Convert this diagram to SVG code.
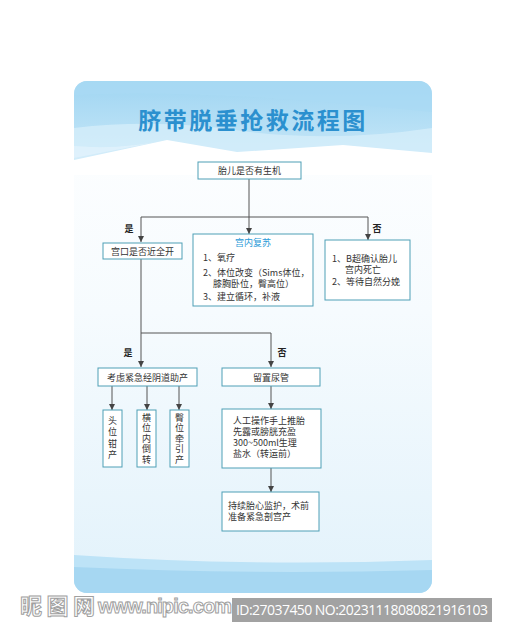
<svg xmlns="http://www.w3.org/2000/svg" width="507" height="638" viewBox="0 0 507 638">
<defs>
<style>
.box{fill:#ffffff;stroke:#4e9fb6;stroke-width:1}
.t{font-family:"Noto Sans CJK SC","Noto Sans",sans-serif;font-size:9px;fill:#333333}
.c{text-anchor:middle}
.v{font-family:"Noto Sans CJK SC","Noto Sans",sans-serif;font-size:9px;fill:#333333;writing-mode:vertical-rl}
.lbl{font-family:"Noto Sans CJK SC",sans-serif;font-size:9px;fill:#222222;font-weight:bold}
.ln{fill:none;stroke:#555555;stroke-width:1}
</style>
<marker id="ah" markerUnits="userSpaceOnUse" markerWidth="6" markerHeight="6" viewBox="0 0 6 6" refX="6" refY="3" orient="auto">
<path d="M0,0 L6,3 L0,6 Z" fill="#444444"/>
</marker>
<linearGradient id="body" x1="0" y1="0" x2="0" y2="1">
<stop offset="0" stop-color="#ffffff"/>
<stop offset="0.45" stop-color="#f6fbfe"/>
<stop offset="1" stop-color="#e2f2fb"/>
</linearGradient>
<linearGradient id="top" x1="0" y1="0" x2="0" y2="1">
<stop offset="0" stop-color="#9fd5f2"/>
<stop offset="1" stop-color="#c9e8f8"/>
</linearGradient>
<clipPath id="board"><rect x="74" y="81" width="358" height="512" rx="13"/></clipPath>
</defs>
<rect width="507" height="638" fill="#ffffff"/>
<g id="background" clip-path="url(#board)">
<rect x="74" y="81" width="358" height="512" fill="url(#body)"/>
<rect x="74" y="81" width="358" height="80" fill="url(#top)"/>
<path d="M74,95 Q200,88 432,112 L432,81 L74,81 Z" fill="#a9daf4" opacity="0.7"/>
<path d="M74,128 Q160,118 250,132 Q340,142 432,128 L432,160 L74,160 Z" fill="#d4edfa" opacity="0.8"/>
<path d="M74,160 L167,140 L237,152 L343,145 L432,153 L432,175 L74,175 Z" fill="#ffffff"/>
<path d="M74,146 Q120,150 167,140 L74,158 Z" fill="#e4f4fc" opacity="0.7"/>
<path d="M74,555 Q250,567 432,560 L432,593 L74,593 Z" fill="#bde3f7"/>
<path d="M74,567 Q250,575 432,570 L432,593 L74,593 Z" fill="#a6d7f2"/>
</g>
<text x="253" y="129" text-anchor="middle" font-family="'Noto Sans CJK SC',sans-serif" font-size="23" font-weight="bold" letter-spacing="2.5" fill="#2b90cf">脐带脱垂抢救流程图</text>
<g id="connectors">
<line class="ln" x1="249" y1="179" x2="249" y2="234" marker-end="url(#ah)"/>
<line class="ln" x1="141" y1="217" x2="368" y2="217"/>
<line class="ln" x1="141" y1="217" x2="141" y2="242" marker-end="url(#ah)"/>
<line class="ln" x1="368" y1="217" x2="368" y2="240" marker-end="url(#ah)"/>
<line class="ln" x1="141" y1="259" x2="141" y2="367" marker-end="url(#ah)"/>
<line class="ln" x1="141" y1="333" x2="271" y2="333"/>
<line class="ln" x1="271" y1="333" x2="271" y2="367" marker-end="url(#ah)"/>
<line class="ln" x1="112" y1="386" x2="112" y2="410" marker-end="url(#ah)"/>
<line class="ln" x1="147" y1="386" x2="147" y2="410" marker-end="url(#ah)"/>
<line class="ln" x1="179" y1="386" x2="179" y2="410" marker-end="url(#ah)"/>
<line class="ln" x1="271" y1="386" x2="271" y2="409" marker-end="url(#ah)"/>
<line class="ln" x1="271" y1="468" x2="271" y2="492" marker-end="url(#ah)"/>
<text class="lbl" x="129" y="232" text-anchor="middle">是</text>
<text class="lbl" x="377" y="232" text-anchor="middle">否</text>
<text class="lbl" x="128" y="356" text-anchor="middle">是</text>
<text class="lbl" x="282" y="356" text-anchor="middle">否</text>
</g>
<g id="n-shengji">
<rect class="box" x="198" y="162" width="103" height="17"/>
<text class="t c" x="249.5" y="174">胎儿是否有生机</text>
</g>
<g id="n-gongkou">
<rect class="box" x="103" y="243" width="79" height="16"/>
<text class="t c" x="142.5" y="254.5" font-size="9.5">宫口是否近全开</text>
</g>
<g id="n-fusu">
<rect class="box" x="193" y="234" width="120" height="72"/>
<text class="t c" x="253" y="246" style="fill:#2a9bd8">宫内复苏</text>
<text class="t" x="203" y="261">1、氧疗</text>
<text class="t" x="203" y="276">2、体位改变（Sims体位，</text>
<text class="t" x="213" y="287">膝胸卧位，臀高位）</text>
<text class="t" x="203" y="300">3、建立循环，补液</text>
</g>
<g id="n-siwang">
<rect class="box" x="325" y="240" width="85" height="60"/>
<text class="t" x="332" y="262">1、B超确认胎儿</text>
<text class="t" x="345" y="273">宫内死亡</text>
<text class="t" x="332" y="285">2、等待自然分娩</text>
</g>
<g id="n-zhuchan">
<rect class="box" x="98" y="368" width="99" height="18"/>
<text class="t c" x="147.5" y="380.5">考虑紧急经阴道助产</text>
</g>
<g id="n-niaoguan">
<rect class="box" x="222" y="368" width="98" height="18"/>
<text class="t c" x="271" y="380.5">留置尿管</text>
</g>
<g id="n-qianchan">
<rect class="box" x="103" y="410" width="19" height="57"/>
<text class="v" x="112.5" y="416" letter-spacing="2.5">头位钳产</text>
</g>
<g id="n-daozhuan">
<rect class="box" x="137" y="410" width="19" height="57"/>
<text class="v" x="146.5" y="413" letter-spacing="1.5">横位内倒转</text>
</g>
<g id="n-qianyin">
<rect class="box" x="170" y="410" width="19" height="57"/>
<text class="v" x="179.5" y="413" letter-spacing="1.5">臀位牵引产</text>
</g>
<g id="n-tuitai">
<rect class="box" x="222" y="409" width="99" height="59"/>
<text class="t" x="233" y="424" font-size="9.5">人工操作手上推胎</text>
<text class="t" x="233" y="435" font-size="9.5">先露或膀胱充盈</text>
<text class="t" x="233" y="446" font-size="9.5">300~500ml生理</text>
<text class="t" x="233" y="457" font-size="9.5">盐水（转运前）</text>
</g>
<g id="n-jianhu">
<rect class="box" x="222" y="492" width="97" height="39"/>
<text class="t" x="228" y="509" font-size="9.5">持续胎心监护，术前</text>
<text class="t" x="228" y="520" font-size="9.5">准备紧急剖宫产</text>
</g>
<g id="watermark">
<text x="20" y="614" font-family="'Noto Sans CJK SC',sans-serif" font-size="22" font-weight="bold" fill="#ffffff" stroke="#a0a0a0" stroke-width="1" textLength="75">昵图网</text>
<text x="98" y="613" font-family="'Liberation Sans',sans-serif" font-size="20" font-weight="bold" fill="#ffffff" stroke="#a0a0a0" stroke-width="1" textLength="134">www.nipic.com</text>
<rect x="232" y="598" width="260" height="24" fill="#a2a2a2"/>
<text x="236" y="615" font-family="'Open Sans','Liberation Sans',sans-serif" font-size="14" fill="#ffffff" textLength="252">ID:27037450 NO:20231118080821916103</text>
</g>
</svg>
